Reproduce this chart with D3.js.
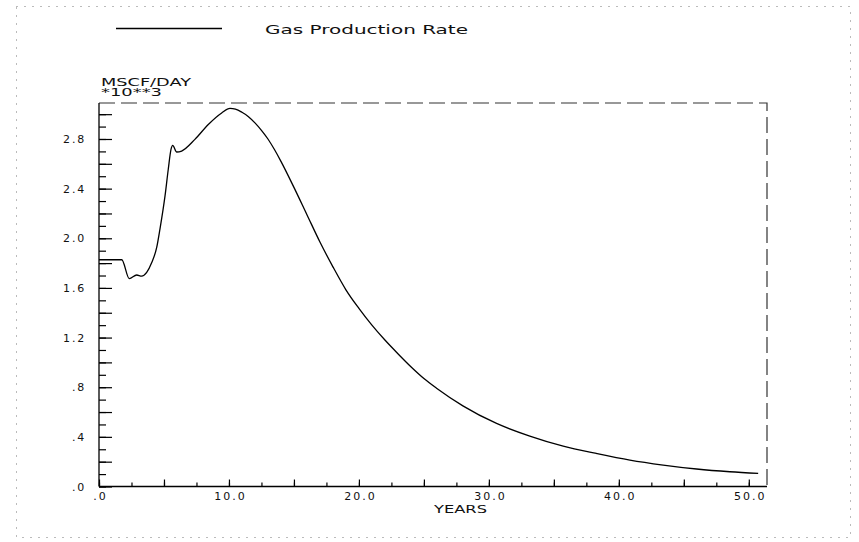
<!DOCTYPE html>
<html>
<head>
<meta charset="utf-8">
<script src="https://cdn.jsdelivr.net/npm/d3@7/dist/d3.min.js"></script>
<style>
  body { margin: 0; background: #ffffff; }
  text { font-family: "DejaVu Sans", sans-serif; fill: #111; }
</style>
</head>
<body>
<svg id="chart" width="859" height="542"></svg>
<script>
// Gas production rate history (rate in MSCF/DAY * 10**3)
const years = [0, 1.75, 2.33, 2.90, 3.28, 3.67, 4.05, 4.44, 4.69, 5.08, 5.33, 5.54, 5.67, 5.98, 6.36,
  7.38, 8.41, 9.44, 10.08, 10.5, 11, 11.5, 12, 12.5, 13, 13.5, 14, 15, 16, 17, 18, 19, 20,
  21, 22, 23, 24, 25, 26, 28, 30.59, 33.15, 35.72, 38.28, 40.85, 43.41, 45.98, 48.54, 50.72];
const gasRate = [1.827, 1.827, 1.675, 1.704, 1.695, 1.725, 1.803, 1.926, 2.074, 2.341, 2.556, 2.716, 2.749, 2.695, 2.703,
  2.797, 2.917, 3.010, 3.046, 3.040, 3.015, 2.980, 2.930, 2.870, 2.800, 2.715, 2.620, 2.410, 2.190, 1.970, 1.770, 1.585, 1.435,
  1.300, 1.180, 1.070, 0.965, 0.870, 0.790, 0.650, 0.508, 0.406, 0.325, 0.266, 0.213, 0.173, 0.141, 0.119, 0.106];

const yLabelTicks = [0, 0.4, 0.8, 1.2, 1.6, 2.0, 2.4, 2.8];
const xLabelTicks = [0, 10, 20, 30, 40, 50];
const seriesName = "Gas Production Rate";
const yUnitLines = ["MSCF/DAY", "*10**3"];
const xTitle = "YEARS";

const svg = d3.select("#chart");

const x = d3.scaleLinear().domain([0, 51.4]).range([99, 767]);
const y = d3.scaleLinear().domain([0, 3.09]).range([486.5, 103]);

const fmt = v => d3.format(".1f")(v).replace(/^0\./, ".");

// outer dotted frame
svg.append("rect")
  .attr("x", 16.5).attr("y", 6.5).attr("width", 834).attr("height", 531)
  .attr("fill", "none").attr("stroke", "#777").attr("stroke-width", 1)
  .attr("stroke-dasharray", "1,7");

// legend
svg.append("line")
  .attr("x1", 116).attr("x2", 222).attr("y1", 28.5).attr("y2", 28.5)
  .attr("stroke", "#000").attr("stroke-width", 1.3);
svg.append("text")
  .attr("x", 265).attr("y", 34)
  .attr("font-size", 12)
  .attr("textLength", 203).attr("lengthAdjust", "spacingAndGlyphs")
  .text(seriesName);

// unit title above the value axis
svg.append("g").selectAll("text").data(yUnitLines).join("text")
  .attr("x", 101).attr("y", (d, i) => 85.5 + i * 10.5)
  .attr("font-size", 9.8)
  .attr("textLength", (d, i) => i === 0 ? 90 : 61).attr("lengthAdjust", "spacingAndGlyphs")
  .text(d => d);

// dashed top and right frame of the plot
svg.append("path")
  .attr("d", `M${x(0)},${y.range()[1]}H${x.range()[1]}V${y(0)}`)
  .attr("fill", "none").attr("stroke", "#333").attr("stroke-width", 1.2)
  .attr("stroke-dasharray", "16,6");

// value axis: tick marks pointing into the plot
const yMinor = d3.range(0, 3.05, 0.1);
const yMajor = d3.range(0, 3.05, 0.2);
svg.append("g").attr("transform", `translate(${x(0)},0)`)
  .call(d3.axisRight(y).tickValues(yMinor).tickSize(7).tickFormat(""))
  .call(g => g.select(".domain").remove())
  .call(g => g.selectAll("line").attr("stroke", "#000").attr("stroke-width", 1.2));
svg.append("g").attr("transform", `translate(${x(0)},0)`)
  .call(d3.axisRight(y).tickValues(yMajor).tickSize(13).tickFormat(""))
  .call(g => g.select(".domain").remove())
  .call(g => g.selectAll("line").attr("stroke", "#000").attr("stroke-width", 1.2));
svg.append("g").attr("transform", `translate(${x(0) - 13},0)`)
  .call(d3.axisLeft(y).tickValues(yLabelTicks).tickSize(0).tickPadding(0).tickFormat(fmt))
  .call(g => g.select(".domain").remove())
  .call(g => g.selectAll("text")
    .attr("font-size", 11).attr("letter-spacing", 1.8)
    .attr("font-family", "DejaVu Sans, sans-serif").attr("fill", "#111"));
svg.append("line")
  .attr("x1", x(0)).attr("x2", x(0)).attr("y1", y.range()[1]).attr("y2", y(0))
  .attr("stroke", "#000").attr("stroke-width", 1.3);

// time axis: ticks pointing up into the plot
const xMinor = d3.range(0, 51, 2.5);
const xMajor = d3.range(0, 51, 5);
svg.append("g").attr("transform", `translate(0,${y(0)})`)
  .call(d3.axisTop(x).tickValues(xMinor).tickSize(4).tickFormat(""))
  .call(g => g.select(".domain").remove())
  .call(g => g.selectAll("line").attr("stroke", "#000").attr("stroke-width", 1.2));
svg.append("g").attr("transform", `translate(0,${y(0)})`)
  .call(d3.axisTop(x).tickValues(xMajor).tickSize(7).tickFormat(""))
  .call(g => g.select(".domain").remove())
  .call(g => g.selectAll("line").attr("stroke", "#000").attr("stroke-width", 1.2));
svg.append("g").attr("transform", `translate(1,${y(0) + 6})`)
  .call(d3.axisBottom(x).tickValues(xLabelTicks).tickSize(0).tickPadding(0).tickFormat(fmt))
  .call(g => g.select(".domain").remove())
  .call(g => g.selectAll("text")
    .attr("font-size", 11).attr("letter-spacing", 2)
    .attr("font-family", "DejaVu Sans, sans-serif").attr("fill", "#111"));
svg.append("line")
  .attr("x1", x(0)).attr("x2", x.range()[1]).attr("y1", y(0)).attr("y2", y(0))
  .attr("stroke", "#000").attr("stroke-width", 1.3);

svg.append("text")
  .attr("x", 434).attr("y", 512.5)
  .attr("font-size", 10.5)
  .attr("textLength", 53).attr("lengthAdjust", "spacingAndGlyphs")
  .text(xTitle);

// production curve
const line = d3.line()
  .x(d => x(d[0]))
  .y(d => y(d[1]))
  .curve(d3.curveMonotoneX);
svg.append("path")
  .datum(years.map((t, i) => [t, gasRate[i]]))
  .attr("d", line)
  .attr("fill", "none").attr("stroke", "#000").attr("stroke-width", 1.3);
</script>
</body>
</html>
